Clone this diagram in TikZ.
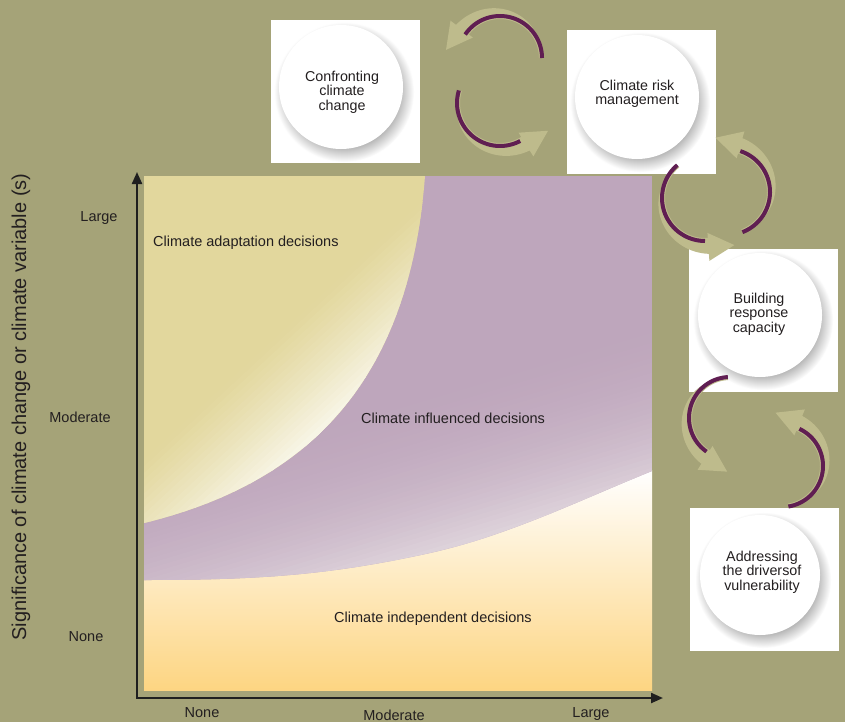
\documentclass[tikz,border=0pt]{standalone}
\usepackage{fontspec}
\setmainfont{Liberation Sans}
\usetikzlibrary{arrows.meta}

\definecolor{bgolive}{RGB}{165,163,120}
\definecolor{adaptyel}{RGB}{226,215,157}
\definecolor{inflpurp}{RGB}{190,166,188}
\definecolor{inflpale}{RGB}{222,211,219}
\definecolor{indorange}{RGB}{253,213,130}
\definecolor{arrowtan}{RGB}{190,187,140}
\definecolor{arcplum}{RGB}{96,30,82}
\definecolor{inkgray}{RGB}{35,31,32}

% soft shadow under the white discs: solid grey core fading to white at the rim
\pgfdeclareradialshading{discshadow}{\pgfpoint{0bp}{0bp}}{%
  color(0bp)=(black!33); color(19bp)=(black!33); color(25bp)=(white); color(50bp)=(white)}

% tapered curved arrow: centre (#1,#2), radius #3, tail angle #4, head-base angle #5
\newcommand\cyclearrow[5]{%
  \pgfmathsetmacro\cdir{((#5)-(#4))/abs((#5)-(#4))}%
  \fill[arrowtan]
    plot[domain=#4:#5, samples=40, variable=\t]
      ({#1+(#3-2+15*(\t-(#4))/((#5)-(#4)))*cos(\t)},
       {#2+(#3-2+15*(\t-(#4))/((#5)-(#4)))*sin(\t)})
    -- ({#1+(#3+20)*cos(#5)}, {#2+(#3+20)*sin(#5)})
    -- ({#1+(#3+6)*cos(#5)-26*\cdir*sin(#5)}, {#2+(#3+6)*sin(#5)+26*\cdir*cos(#5)})
    -- ({#1+(#3-8)*cos(#5)}, {#2+(#3-8)*sin(#5)})
    -- plot[domain=#5:#4, samples=40, variable=\t]
      ({#1+(#3-3)*cos(\t)}, {#2+(#3-3)*sin(\t)})
    -- cycle;
}
% plum arc riding on the arrow: centre (#1,#2), radius #3, from #4 to #5
\newcommand\plumarc[5]{%
  \draw[arcplum, line width=4pt]
    plot[domain=#4:#5, samples=40, variable=\t] ({#1+#3*cos(\t)}, {#2+#3*sin(\t)});
}

\begin{document}
\begin{tikzpicture}[x=1pt, y=-1pt,
  every node/.style={text=inkgray, font=\fontsize{14.5}{15}\selectfont},
  regionlabel/.style={anchor=west, inner sep=0pt},
  stagebox/.style={fill=white, minimum width=149pt, minimum height=143pt, inner sep=0pt},
  stagedisc/.style={circle, fill=white, minimum size=124pt, inner sep=0pt},
  stagetext/.style={align=center, inner sep=0pt, font=\fontsize{14.3}{14.5}\selectfont},
  axisline/.style={line width=2.2pt, draw=black!88}]

% backdrop
\fill[bgolive] (0,0) rectangle (845,722);

% ---- decision-space chart ----
% climate independent decisions (bottom band)
\shade[top color=white, bottom color=indorange] (144,470) rectangle (652,690);

% climate influenced decisions (middle band)
\begin{scope}
  \clip (144,176) -- (144,580) .. controls (260,580) and (330,575) .. (430,553)
        .. controls (510,535) and (580,500) .. (652,471) -- (652,176) -- cycle;
  \fill[inflpurp] (144,176) rectangle (652,700);
  \foreach \i in {0,...,33}{
    \pgfmathsetmacro\ya{470+5*\i}
    \pgfmathsetmacro\yb{\ya+5.6}
    \pgfmathsetmacro\p{100*((\i+0.5)/34)^2}
    \fill[inflpale!\p!inflpurp] (144,\ya) -- ({652},{\ya-152.4}) -- ({652},{\yb-152.4}) -- (144,\yb) -- cycle;
  }
  \fill[inflpale] (144,640) -- (652,487.6) -- (652,800) -- (144,800) -- cycle;
\end{scope}

% climate adaptation decisions (upper-left band) with its pale sheen
\begin{scope}
  \clip (144,176) -- (144,523) .. controls (320,480) and (410,370) .. (425,176) -- cycle;
  \fill[adaptyel] (144,176) rectangle (430,530);
  \foreach \i in {0,...,21}{
    \pgfmathsetmacro\da{5*\i}
    \pgfmathsetmacro\db{\da+5.6}
    \pgfmathsetmacro\w{85*((\i+0.5)/22)^1.2}
    \fill[white!\w!adaptyel]
      ({140+\da*0.68-500*0.733},{463+\da*0.733+500*0.68}) --
      ({140+\da*0.68+500*0.733},{463+\da*0.733-500*0.68}) --
      ({140+\db*0.68+500*0.733},{463+\db*0.733-500*0.68}) --
      ({140+\db*0.68-500*0.733},{463+\db*0.733+500*0.68}) -- cycle;
  }
  \fill[white!85!adaptyel]
      ({140+110*0.68-500*0.733},{463+110*0.733+500*0.68}) --
      ({140+110*0.68+500*0.733},{463+110*0.733-500*0.68}) --
      ({140+400*0.68+500*0.733},{463+400*0.733-500*0.68}) --
      ({140+400*0.68-500*0.733},{463+400*0.733+500*0.68}) -- cycle;
\end{scope}

\node[regionlabel] (adapt) at (153,243) {Climate adaptation decisions};
\node[regionlabel] (influ) at (361,418) {Climate influenced decisions};
\node[regionlabel] (indep) at (334,619) {Climate independent decisions};

% axes
\coordinate (origin) at (137,698);
\coordinate (ytop) at (137,172);
\coordinate (xend) at (663,698);
\draw[axisline, {Triangle[length=12pt,width=10pt]}-{Triangle[length=12pt,width=10pt]}]
  (ytop) -- (origin) -- (xend);

\node (yl) at (99,218) {Large};
\node (ym) at (80,417) {Moderate};
\node (yn) at (86,637) {None};
\node (xn) at (202,713) {None};
\node (xm) at (394,715) {Moderate};
\node (xl) at (591,714) {Large};
\node[rotate=90, font=\fontsize{20}{24}\selectfont] (ytitle) at (21,407)
  {Significance of climate change or climate variable (s)};

% ---- stage boxes ----
\node[stagebox] (box1) at (345,91.5) {};
\node[stagebox] (box2) at (641.5,102) {};
\node[stagebox] (box3) at (763.5,320) {};
\node[stagebox] (box4) at (764.5,579.5) {};

\shade[shading=discshadow] (344,92) circle (70);
\shade[shading=discshadow] (640,102) circle (70);
\shade[shading=discshadow] (763,320) circle (70);
\shade[shading=discshadow] (763,580) circle (68);

\node[stagedisc] (disc1) at (341,87) {};
\node[stagedisc] (disc2) at (637,97) {};
\node[stagedisc] (disc3) at (760,315) {};
\node[stagedisc, minimum size=120pt] (disc4) at (760,575) {};

\node[stagetext] (txt1) at (342,92) {Confronting\\climate\\change};
\node[stagetext] (txt2) at (637,94) {Climate risk\\management};
\node[stagetext] (txt3) at (759,314) {Building\\response\\capacity};
\node[stagetext] (txt4) at (762,572) {Addressing\\the driversof\\vulnerability};

% ---- cycle arrows between the stages ----
\cyclearrow{500}{58}{42}{0}{-143}
\plumarc{500}{58}{42}{-146}{0}
\cyclearrow{500}{103}{43}{197}{58}
\plumarc{500}{103}{43}{197}{62}

\cyclearrow{727}{192}{43}{69}{-74}
\plumarc{727}{192}{43}{69}{-72}
\cyclearrow{705}{198}{43}{230}{86}
\plumarc{705}{198}{43}{230}{90}

\cyclearrow{730}{418}{41}{267}{122}
\plumarc{730}{418}{41}{267}{125}
\cyclearrow{782}{466}{41}{81}{-68}
\plumarc{782}{466}{41}{81}{-65}
\end{tikzpicture}
\end{document}
